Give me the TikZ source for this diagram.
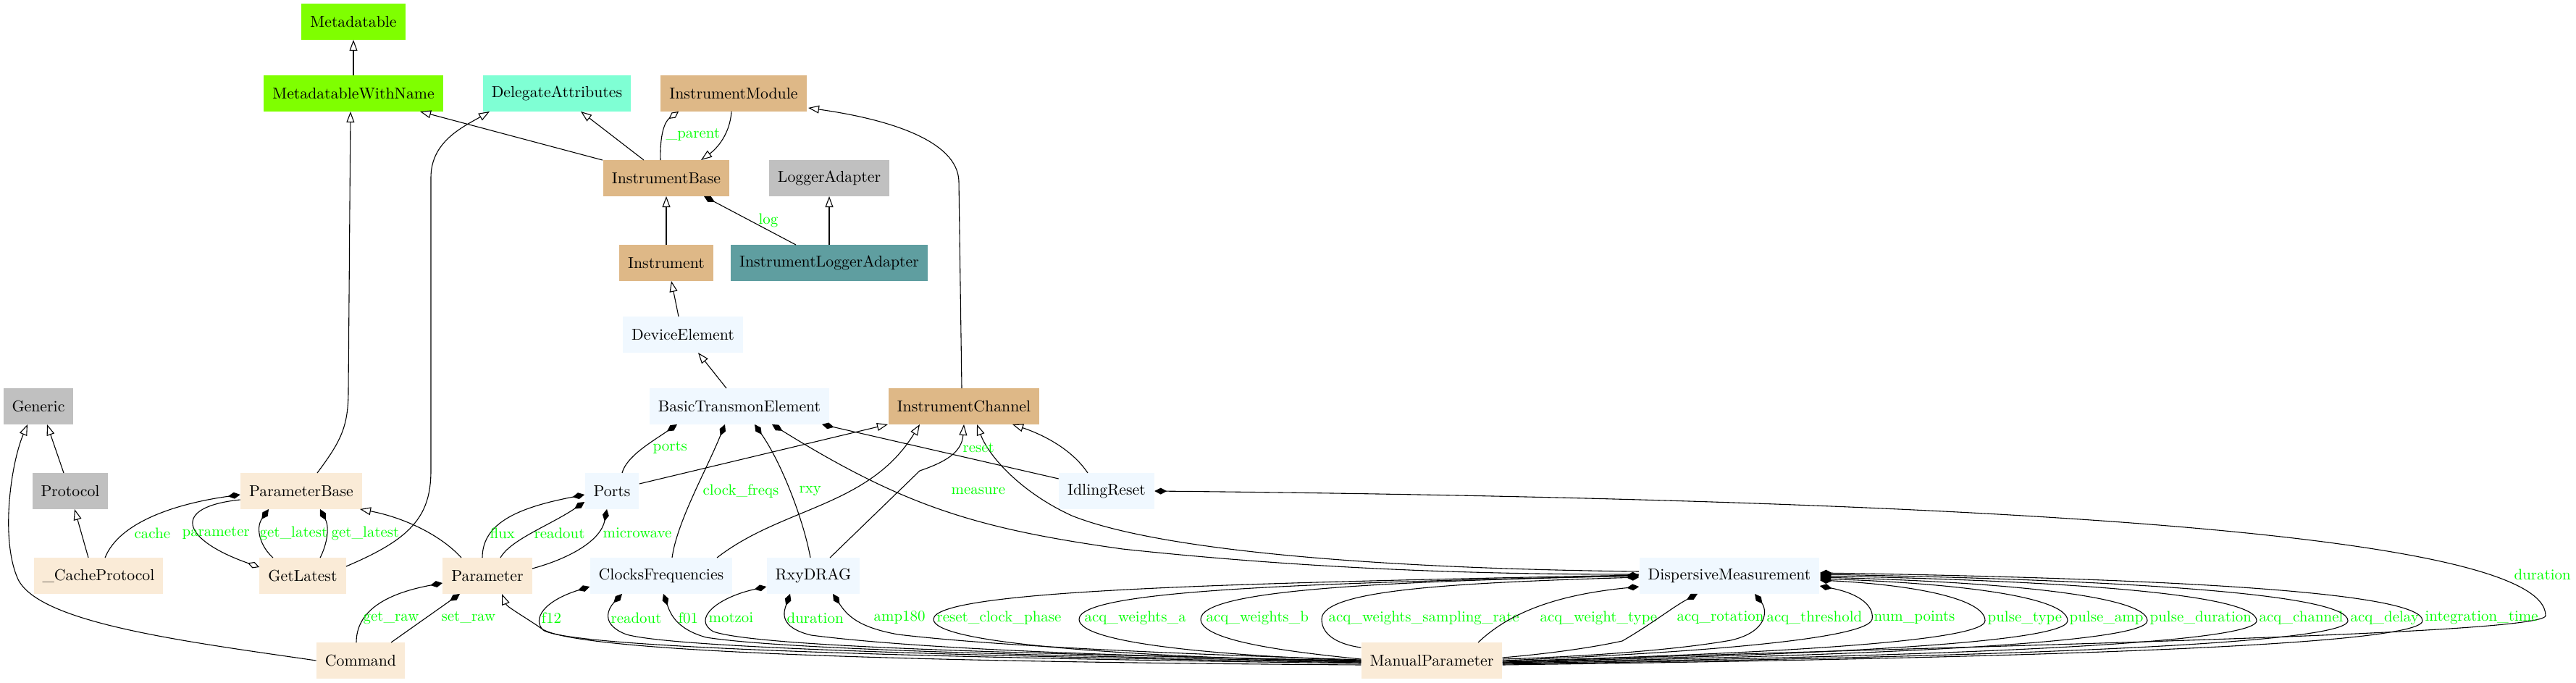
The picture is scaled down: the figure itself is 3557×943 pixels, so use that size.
\documentclass[tikz,border=0pt]{standalone}
\usepackage{amsmath}
\usetikzlibrary{arrows.meta, calc}

\definecolor{chartreuse}{HTML}{7FFF00}
\definecolor{aquamarine}{HTML}{7FFFD4}
\definecolor{burlywood}{HTML}{DEB887}
\definecolor{silvergrey}{HTML}{C0C0C0}
\definecolor{cadetblue}{HTML}{5F9EA0}
\definecolor{aliceblue}{HTML}{F0F8FF}
\definecolor{antiquewhite}{HTML}{FAEBD7}
\definecolor{lblgreen}{HTML}{00FF00}

\begin{document}
\begin{tikzpicture}[
x={(0.4587pt,0pt)}, y={(0pt,-0.4587pt)},
% #region Picture settings %
cls/.style={inner xsep=5.5pt, inner ysep=0pt, minimum height=22.5pt},
chart/.style={cls, fill=chartreuse},
aqua/.style={cls, fill=aquamarine},
burly/.style={cls, fill=burlywood},
grey/.style={cls, fill=silvergrey},
cadet/.style={cls, fill=cadetblue},
alice/.style={cls, fill=aliceblue},
antique/.style={cls, fill=antiquewhite},
lbl/.style={text=lblgreen, anchor=west, inner sep=0.5pt, font=\fontsize{9.6pt}{11pt}\selectfont},
inh/.style={line width=0.5pt, -{Triangle[open, length=6.9pt, width=5pt]}},
comp/.style={line width=0.5pt, {Diamond[length=7.8pt, width=4.1pt]}-},
aggr/.style={line width=0.5pt, {Diamond[open, length=7.8pt, width=4.1pt]}-},
% #endregion Picture settings %
]
\useasboundingbox (0,0) rectangle (3557,943);

% #region Classes %
\node[chart] (Metadatable) at (488,30) {Metadatable};
\node[chart] (MetaName) at (488,129) {MetadatableWithName};
\node[aqua] (Delegate) at (769,129) {DelegateAttributes};
\node[burly] (InstrModule) at (1013,129) {InstrumentModule};
\node[burly] (InstrBase) at (920,246) {InstrumentBase};
\node[grey] (Logger) at (1145,246) {LoggerAdapter};
\node[burly] (Instr) at (920,363) {Instrument};
\node[cadet] (InstrLogger) at (1145,363) {InstrumentLoggerAdapter};
\node[alice] (DevElem) at (943,462) {DeviceElement};
\node[alice] (Transmon) at (1021,561) {BasicTransmonElement};
\node[burly] (InstrChannel) at (1331,561) {InstrumentChannel};
\node[grey] (Generic) at (53,561) {Generic};
\node[grey] (Protocol) at (97,678) {Protocol};
\node[antique] (ParamBase) at (416,678) {ParameterBase};
\node[alice] (Ports) at (845,678) {Ports};
\node[alice] (Idling) at (1528,678) {IdlingReset};
\node[antique] (CacheProto) at (136,795) {\_CacheProtocol};
\node[antique] (GetLatest) at (418,795) {GetLatest};
\node[antique] (Param) at (673,795) {Parameter};
\node[alice] (Clocks) at (913,795) {ClocksFrequencies};
\node[alice] (Rxy) at (1123,795) {RxyDRAG};
\node[alice] (Dispersive) at (2388,795) {DispersiveMeasurement};
\node[antique] (Command) at (498,912) {Command};
\node[antique] (ManualParam) at (1977,912) {ManualParameter};
% #endregion Classes %

% #region Inheritance %
\draw[inh] (MetaName.north) -- (Metadatable.south);
\draw[inh] ($(InstrBase.north)+(-88,0)$) -- ($(MetaName.south)+(92,0)$);
\draw[inh] ($(InstrBase.north)+(-31,0)$) -- ($(Delegate.south)+(33,0)$);
\draw[inh] ($(InstrModule.south)+(-3,0)$) .. controls (1008,185) and (990,205) .. ($(InstrBase.north)+(48,0)$);
\draw[inh] (Instr.north) -- (InstrBase.south);
\draw[inh] (InstrLogger.north) -- (Logger.south);
\draw[inh] ($(DevElem.north)+(-6,0)$) -- ($(Instr.south)+(7,0)$);
\draw[inh] ($(Transmon.north)+(-18,0)$) -- ($(DevElem.south)+(21,0)$);
\draw[inh] ($(InstrChannel.north)+(-3,0)$) -- (1324,250) .. controls (1322,195) and (1230,165) .. ($(InstrModule.south)+(103,-5)$);
\draw[inh] ($(ParamBase.north)+(22,0)$) .. controls (470,610) and (481,590) .. (481,540) -- ($(MetaName.south)+(-4,0)$);
\draw[inh] ($(GetLatest.east)+(0,-13)$) .. controls (565,745) and (595,715) .. (595,650) -- (595,245) .. controls (595,195) and (640,175) .. ($(Delegate.south)+(-93,0)$);
\draw[inh] ($(Protocol.north)+(-9,0)$) -- ($(Generic.south)+(12,0)$);
\draw[inh] ($(CacheProto.north)+(-14,0)$) -- ($(Protocol.south)+(6,0)$);
\draw[inh] (Command.west) .. controls (250,885) and (55,860) .. (25,800) .. controls (0,745) and (15,640) .. ($(Generic.south)+(-15,0)$);
\draw[inh] ($(Param.north)+(-36,0)$) .. controls (610,740) and (560,715) .. ($(ParamBase.south)+(81,0)$);
\draw[inh] ($(Ports.east)+(0,-10)$) -- ($(InstrChannel.south)+(-105,0)$);
\draw[inh] ($(Clocks.north)+(77,0)$) .. controls (1080,700) and (1200,700) .. ($(InstrChannel.south)+(-61,0)$);
\draw[inh] ($(Rxy.north)+(23,0)$) -- (1270,650) .. controls (1305,638) and (1328,625) .. (InstrChannel.south);
\draw[inh] ($(Idling.north)+(-26,0)$) .. controls (1480,620) and (1440,600) .. ($(InstrChannel.south)+(67,0)$);
\draw[inh] ($(Dispersive.west)+(0,-6)$) .. controls (1900,785) and (1600,760) .. (1480,712) .. controls (1410,680) and (1365,630) .. ($(InstrChannel.south)+(18,0)$);
\draw[inh] ($(ManualParam.west)+(0,6)$) .. controls (1400,915) and (800,905) .. (748,868) .. controls (725,852) and (700,838) .. ($(Param.south)+(20,0)$);
% #endregion Inheritance %

% #region Members %
\draw[aggr] ($(InstrModule.south)+(-76,0)$) .. controls (918,168) and (911,185) .. ($(InstrBase.north)+(-8,0)$) node[lbl] (l-parent) at (918,186) {\_parent};
\draw[comp] ($(InstrBase.south)+(52,0)$) -- ($(InstrLogger.north)+(-46,0)$) node[lbl] (l-log) at (1046,304) {log};
\draw[comp] ($(ParamBase.west)+(0,5)$) .. controls (245,695) and (165,720) .. ($(CacheProto.north)+(9,0)$) node[lbl] (l-cache) at (184,736) {cache};
\draw[aggr] ($(GetLatest.west)+(0,-12)$) .. controls (250,745) and (235,700) .. ($(ParamBase.west)+(0,12)$) node[lbl] (l-parameter) at (250,736) {parameter};
\draw[comp] ($(ParamBase.south)+(-45,0)$) .. controls (352,730) and (360,755) .. ($(GetLatest.north)+(-41,0)$) node[lbl] (l-getlatest-a) at (357,736) {get\_latest};
\draw[comp] ($(ParamBase.south)+(26,0)$) .. controls (456,730) and (450,755) .. ($(GetLatest.north)+(24,0)$) node[lbl] (l-getlatest-b) at (456,736) {get\_latest};
\draw[comp] ($(Param.west)+(0,10)$) .. controls (530,820) and (492,845) .. ($(Command.north)+(-6,0)$) node[lbl] (l-getraw) at (500,853) {get\_raw};
\draw[comp] ($(Param.south)+(-38,0)$) -- ($(Command.north)+(42,0)$) node[lbl] (l-setraw) at (608,853) {set\_raw};

\draw[comp] ($(Transmon.south)+(-86,0)$) .. controls (900,610) and (865,630) .. ($(Ports.north)+(14,0)$) node[lbl] (l-ports) at (900,618) {ports};
\draw[comp] ($(Ports.west)+(0,5)$) .. controls (720,700) and (666,720) .. ($(Param.north)+(-7,0)$) node[lbl] (l-flux) at (675,736) {flux};
\draw[comp] ($(Ports.west)+(0,15)$) .. controls (760,725) and (705,745) .. ($(Param.north)+(18,0)$) node[lbl] (l-readout-a) at (736,736) {readout};
\draw[comp] ($(Ports.south)+(-7,0)$) .. controls (830,745) and (790,770) .. ($(Param.east)+(0,-10)$) node[lbl] (l-microwave) at (831,736) {microwave};
\draw[comp] ($(Transmon.south)+(-20,0)$) .. controls (975,650) and (935,720) .. ($(Clocks.north)+(15,0)$) node[lbl] (l-clockfreqs) at (969,678) {clock\_freqs};
\draw[comp] ($(Transmon.south)+(21,0)$) .. controls (1080,640) and (1110,720) .. ($(Rxy.north)+(-4,0)$) node[lbl] (l-rxy) at (1102,678) {rxy};
\draw[comp] ($(Transmon.south)+(114,0)$) -- ($(Idling.west)+(0,-17)$) node[lbl] (l-reset) at (1328,618) {reset};
\draw[comp] ($(Transmon.south)+(45,0)$) .. controls (1250,700) and (1350,730) .. (1550,758) .. controls (1850,790) and (2100,793) .. ($(Dispersive.west)+(0,-2)$) node[lbl] (l-measure) at (1312,678) {measure};
\draw[comp] (Idling.east) .. controls (2800,690) and (3515,740) .. (3515,850) .. controls (3515,880) and (2500,895) .. ($(ManualParam.east)+(0,3)$) node[lbl] (l-duration-a) at (3470,793) {duration};

\draw[comp] ($(Clocks.west)+(0,15)$) .. controls (750,830) and (735,855) .. (750,870) .. controls (800,902) and (1600,912) .. ($(ManualParam.west)+(0,4)$) node[lbl] (l-f12) at (746,853) {f12};
\draw[comp] ($(Clocks.south)+(-54,0)$) .. controls (840,840) and (828,862) .. (865,876) .. controls (950,900) and (1600,910) .. ($(ManualParam.west)+(0,3)$) node[lbl] (l-readout-b) at (842,853) {readout};
\draw[comp] ($(Clocks.south)+(3,0)$) .. controls (925,845) and (932,868) .. (975,880) .. controls (1100,900) and (1600,908) .. ($(ManualParam.west)+(0,2)$) node[lbl] (l-f01) at (935,853) {f01};
\draw[comp] ($(Rxy.west)+(0,15)$) .. controls (990,825) and (955,855) .. (985,872) .. controls (1060,898) and (1600,905) .. ($(ManualParam.west)+(0,1)$) node[lbl] (l-motzoi) at (977,853) {motzoi};
\draw[comp] ($(Rxy.south)+(-32,0)$) .. controls (1082,845) and (1075,866) .. (1120,877) .. controls (1300,900) and (1650,908) .. (ManualParam.west) node[lbl] (l-duration-b) at (1085,853) {duration};
\draw[comp] ($(Rxy.south)+(27,0)$) .. controls (1170,850) and (1185,866) .. (1240,876) .. controls (1400,895) and (1700,905) .. ($(ManualParam.west)+(0,-1)$) node[lbl] (l-amp180) at (1205,853) {amp180};

\draw[comp] ($(Dispersive.west)+(0,-1)$) .. controls (1700,805) and (1289,815) .. (1289,855) .. controls (1289,885) and (1500,905) .. ($(ManualParam.west)+(0,2)$) node[lbl] (l-resetclock) at (1292,853) {reset\_clock\_phase};
\draw[comp] (Dispersive.west) .. controls (1800,805) and (1490,815) .. (1490,855) .. controls (1490,888) and (1680,905) .. (ManualParam.west) node[lbl] (l-weightsa) at (1496,853) {acq\_weights\_a};
\draw[comp] (Dispersive.west) .. controls (1900,803) and (1658,815) .. (1658,855) .. controls (1658,885) and (1780,900) .. ($(ManualParam.west)+(0,-2)$) node[lbl] (l-weightsb) at (1664,853) {acq\_weights\_b};
\draw[comp] ($(Dispersive.west)+(0,2)$) .. controls (2000,805) and (1825,815) .. (1825,855) .. controls (1825,878) and (1850,890) .. ($(ManualParam.north west)+(0,7)$) node[lbl] (l-weightsrate) at (1833,853) {acq\_weights\_sampling\_rate};
\draw[comp] ($(Dispersive.west)+(0,15)$) .. controls (2140,822) and (2080,850) .. ($(ManualParam.north)+(64,0)$) node[lbl] (l-weighttype) at (2125,853) {acq\_weight\_type};
\draw[comp] ($(Dispersive.south)+(-44,0)$) .. controls (2310,838) and (2280,862) .. (2240,885) .. controls (2180,898) and (2110,905) .. ($(ManualParam.east)+(0,-4)$) node[lbl] (l-rotation) at (2314,853) {acq\_rotation};
\draw[comp] ($(Dispersive.south)+(35,0)$) .. controls (2440,842) and (2442,872) .. (2390,884) .. controls (2300,900) and (2150,908) .. ($(ManualParam.east)+(0,-2)$) node[lbl] (l-threshold) at (2438,853) {acq\_threshold};
\draw[comp] ($(Dispersive.east)+(0,14)$) .. controls (2570,820) and (2588,838) .. (2585,855) .. controls (2578,885) and (2300,903) .. (ManualParam.east) node[lbl] (l-numpoints) at (2586,853) {num\_points};
\draw[comp] ($(Dispersive.east)+(0,6)$) .. controls (2650,808) and (2741,828) .. (2741,857) .. controls (2741,890) and (2350,905) .. ($(ManualParam.east)+(0,1)$) node[lbl] (l-pulsetype) at (2743,853) {pulse\_type};
\draw[comp] ($(Dispersive.east)+(0,4)$) .. controls (2720,806) and (2855,826) .. (2855,857) .. controls (2855,892) and (2400,907) .. ($(ManualParam.east)+(0,2)$) node[lbl] (l-pulseamp) at (2856,853) {pulse\_amp};
\draw[comp] ($(Dispersive.east)+(0,2)$) .. controls (2780,804) and (2965,824) .. (2965,857) .. controls (2965,893) and (2450,908) .. ($(ManualParam.east)+(0,3)$) node[lbl] (l-pulsedur) at (2967,853) {pulse\_duration};
\draw[comp] (Dispersive.east) .. controls (2850,802) and (3116,820) .. (3116,857) .. controls (3116,895) and (2500,909) .. ($(ManualParam.east)+(0,4)$) node[lbl] (l-acqchannel) at (3118,853) {acq\_channel};
\draw[comp] ($(Dispersive.east)+(0,-2)$) .. controls (2900,800) and (3242,818) .. (3242,857) .. controls (3242,896) and (2550,910) .. ($(ManualParam.east)+(0,5)$) node[lbl] (l-acqdelay) at (3244,853) {acq\_delay};
\draw[comp] ($(Dispersive.east)+(0,-4)$) .. controls (2950,798) and (3345,815) .. (3345,857) .. controls (3345,897) and (2600,911) .. ($(ManualParam.east)+(0,6)$) node[lbl] (l-integration) at (3347,853) {integration\_time};
% #endregion Members %

\end{tikzpicture}
\end{document}
